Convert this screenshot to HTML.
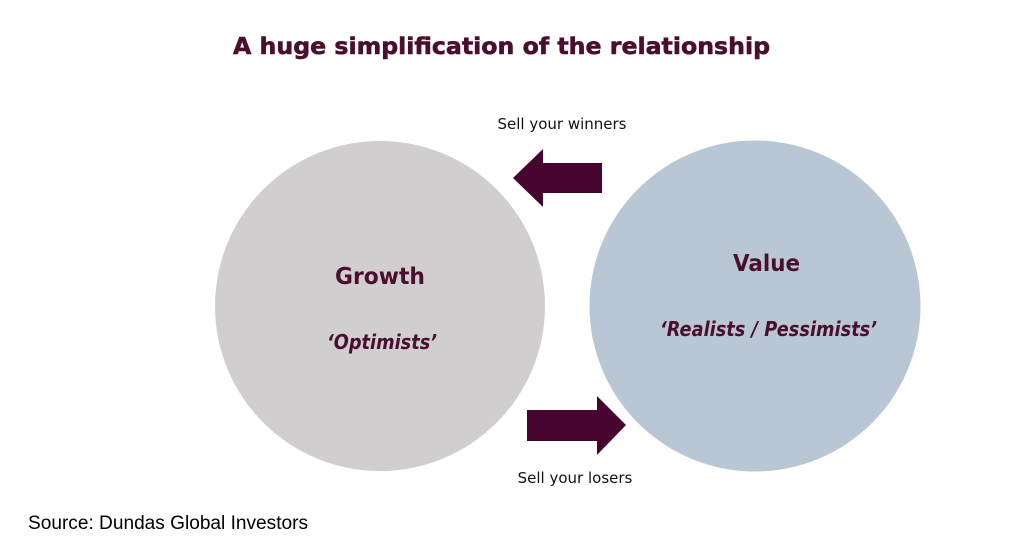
<!DOCTYPE html>
<html><head><style>
body{margin:0;width:1023px;height:557px;background:#fff;overflow:hidden;position:relative;font-family:"Liberation Sans",sans-serif}
</style></head><body>
<svg width="1023" height="557" style="position:absolute;left:0;top:0">
<circle cx="380" cy="306" r="165" fill="#d0cecf"/>
<circle cx="755" cy="306" r="165.5" fill="#b9c6d3"/>
<polygon points="513,178 543,149 543,163 602,163 602,193 543,193 543,207" fill="#47042e"/>
<polygon points="527,410 597,410 597,396 626,425 597,455 597,441 527,441" fill="#47042e"/>
<text x="233" y="54" textLength="537" lengthAdjust="spacingAndGlyphs" font-family="DejaVu Sans" font-weight="bold" font-size="23" fill="#4a0f2e" stroke="#4a0f2e" stroke-width="0.6">A huge simplification of the relationship</text>
<text x="562" y="129" text-anchor="middle" font-family="DejaVu Sans" font-size="15" fill="#111">Sell your winners</text>
<text x="575" y="483" text-anchor="middle" font-family="DejaVu Sans" font-size="15" fill="#111">Sell your losers</text>
<text x="335" y="284" textLength="90" lengthAdjust="spacingAndGlyphs" font-family="DejaVu Sans" font-weight="bold" font-size="23" fill="#4a0f2e">Growth</text>
<text x="327" y="349" textLength="110" lengthAdjust="spacingAndGlyphs" font-family="DejaVu Sans" font-weight="bold" font-style="italic" font-size="20" fill="#4a0f2e">‘Optimists’</text>
<text x="733" y="271" textLength="67" lengthAdjust="spacingAndGlyphs" font-family="DejaVu Sans" font-weight="bold" font-size="23" fill="#4a0f2e">Value</text>
<text x="660" y="336" textLength="217" lengthAdjust="spacingAndGlyphs" font-family="DejaVu Sans" font-weight="bold" font-style="italic" font-size="20" fill="#4a0f2e">‘Realists / Pessimists’</text>
<text x="28" y="529" textLength="280" lengthAdjust="spacingAndGlyphs" font-family="Liberation Sans" font-size="19" fill="#000">Source: Dundas Global Investors</text>
</svg>
</body></html>
